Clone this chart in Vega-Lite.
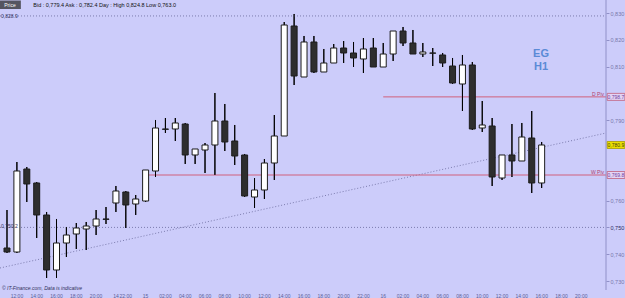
{
  "$schema": "https://vega.github.io/schema/vega-lite/v6.json",
  "width": 625,
  "height": 298,
  "autosize": {"type": "none"},
  "padding": 0,
  "background": "#ccccfa",
  "config": {"view": {"stroke": null}, "font": "Liberation Sans", "scale": {"continuousPadding": 0}},
  "datasets": {
    "candles": [
      {"t":0,"o":0.74231,"h":0.75649,"l":0.74045,"c":0.74082},
      {"t":1,"o":0.74082,"h":0.77440,"l":0.74045,"c":0.77105},
      {"t":2,"o":0.77179,"h":0.77254,"l":0.75948,"c":0.76620},
      {"t":3,"o":0.76657,"h":0.76694,"l":0.74605,"c":0.75463},
      {"t":4,"o":0.75463,"h":0.75575,"l":0.73112,"c":0.73411},
      {"t":5,"o":0.73411,"h":0.75314,"l":0.73112,"c":0.74418},
      {"t":6,"o":0.74418,"h":0.75015,"l":0.73896,"c":0.74716},
      {"t":7,"o":0.74754,"h":0.75164,"l":0.74194,"c":0.74978},
      {"t":8,"o":0.74940,"h":0.75202,"l":0.74157,"c":0.75052},
      {"t":9,"o":0.75052,"h":0.75649,"l":0.74716,"c":0.75314},
      {"t":10,"o":0.75314,"h":0.75761,"l":0.75127,"c":0.75300},
      {"t":11,"o":0.75911,"h":0.76545,"l":0.75575,"c":0.76358},
      {"t":12,"o":0.76321,"h":0.76358,"l":0.74978,"c":0.75836},
      {"t":13,"o":0.75873,"h":0.76209,"l":0.75463,"c":0.76060},
      {"t":14,"o":0.75985,"h":0.77142,"l":0.75948,"c":0.77142},
      {"t":15,"o":0.77105,"h":0.79008,"l":0.76881,"c":0.78709},
      {"t":16,"o":0.78672,"h":0.79082,"l":0.78522,"c":0.78660},
      {"t":17,"o":0.78672,"h":0.79082,"l":0.78224,"c":0.78896},
      {"t":18,"o":0.78858,"h":0.78896,"l":0.77366,"c":0.77702},
      {"t":19,"o":0.77702,"h":0.77926,"l":0.77366,"c":0.77926},
      {"t":20,"o":0.77888,"h":0.78149,"l":0.77030,"c":0.78075},
      {"t":21,"o":0.78075,"h":0.80015,"l":0.76955,"c":0.78970},
      {"t":22,"o":0.78970,"h":0.79605,"l":0.77851,"c":0.78187},
      {"t":23,"o":0.78224,"h":0.78821,"l":0.77328,"c":0.77664},
      {"t":24,"o":0.77702,"h":0.77739,"l":0.76134,"c":0.76172},
      {"t":25,"o":0.76134,"h":0.76843,"l":0.75724,"c":0.76396},
      {"t":26,"o":0.76396,"h":0.77552,"l":0.76060,"c":0.77403},
      {"t":27,"o":0.77403,"h":0.79194,"l":0.76769,"c":0.78411},
      {"t":28,"o":0.78411,"h":0.82664,"l":0.78411,"c":0.82552},
      {"t":29,"o":0.82515,"h":0.82963,"l":0.80313,"c":0.80649},
      {"t":30,"o":0.80612,"h":0.82142,"l":0.80612,"c":0.81918},
      {"t":31,"o":0.81918,"h":0.82142,"l":0.80761,"c":0.80799},
      {"t":32,"o":0.80799,"h":0.81657,"l":0.80799,"c":0.81134},
      {"t":33,"o":0.81134,"h":0.81843,"l":0.81134,"c":0.81694},
      {"t":34,"o":0.81694,"h":0.81955,"l":0.81134,"c":0.81508},
      {"t":35,"o":0.81508,"h":0.81918,"l":0.80985,"c":0.81321},
      {"t":36,"o":0.81284,"h":0.82067,"l":0.80761,"c":0.81657},
      {"t":37,"o":0.81694,"h":0.82067,"l":0.80985,"c":0.80985},
      {"t":38,"o":0.80985,"h":0.81881,"l":0.80985,"c":0.81470},
      {"t":39,"o":0.81470,"h":0.82328,"l":0.81209,"c":0.82328},
      {"t":40,"o":0.82328,"h":0.82478,"l":0.81769,"c":0.81881},
      {"t":41,"o":0.81881,"h":0.82366,"l":0.81470,"c":0.81470},
      {"t":42,"o":0.81470,"h":0.81881,"l":0.81358,"c":0.81545},
      {"t":43,"o":0.81508,"h":0.81694,"l":0.81022,"c":0.81500},
      {"t":44,"o":0.81433,"h":0.81508,"l":0.80985,"c":0.81134},
      {"t":45,"o":0.81022,"h":0.81321,"l":0.80351,"c":0.80388},
      {"t":46,"o":0.80351,"h":0.81433,"l":0.79343,"c":0.81060},
      {"t":47,"o":0.81060,"h":0.81172,"l":0.78634,"c":0.78672},
      {"t":48,"o":0.78709,"h":0.79717,"l":0.78560,"c":0.78821},
      {"t":49,"o":0.78784,"h":0.79082,"l":0.76545,"c":0.76881},
      {"t":50,"o":0.76843,"h":0.77702,"l":0.76769,"c":0.77702},
      {"t":51,"o":0.77702,"h":0.78858,"l":0.76881,"c":0.77478},
      {"t":52,"o":0.77478,"h":0.78896,"l":0.77478,"c":0.78373},
      {"t":53,"o":0.78336,"h":0.79343,"l":0.76284,"c":0.76657},
      {"t":54,"o":0.76657,"h":0.78187,"l":0.76470,"c":0.78075}
    ],
    "rightlabels": [
      {"kind":"D Piv","v":0.7987,"label":"0,798.7"},
      {"kind":"W Piv","v":0.76955,"label":"0,769.8"},
      {"kind":"price","v":0.78075,"label":"0,780.9"}
    ],
    "timelabels": [
      {"t":1,"label":"12:00","day":false},
      {"t":3,"label":"14:00","day":false},
      {"t":5,"label":"16:00","day":false},
      {"t":7,"label":"18:00","day":false},
      {"t":9,"label":"20:00","day":false},
      {"t":11,"label":"14","day":true},
      {"t":12,"label":"22:00","day":false},
      {"t":14,"label":"15","day":true},
      {"t":16,"label":"02:00","day":false},
      {"t":18,"label":"04:00","day":false},
      {"t":20,"label":"06:00","day":false},
      {"t":22,"label":"08:00","day":false},
      {"t":24,"label":"10:00","day":false},
      {"t":26,"label":"12:00","day":false},
      {"t":28,"label":"14:00","day":false},
      {"t":30,"label":"16:00","day":false},
      {"t":32,"label":"18:00","day":false},
      {"t":34,"label":"20:00","day":false},
      {"t":36,"label":"22:00","day":false},
      {"t":38,"label":"16","day":true},
      {"t":40,"label":"02:00","day":false},
      {"t":42,"label":"04:00","day":false},
      {"t":44,"label":"06:00","day":false},
      {"t":46,"label":"08:00","day":false},
      {"t":48,"label":"10:00","day":false},
      {"t":50,"label":"12:00","day":false},
      {"t":52,"label":"14:00","day":false},
      {"t":54,"label":"16:00","day":false},
      {"t":56,"label":"18:00","day":false},
      {"t":58,"label":"20:00","day":false}
    ]
  },
  "layer": [
    {
      "data": {"name":"candles"},
      "mark": {"type":"rule","color":"#000000","strokeWidth":1},
      "encoding": {
        "x": {"field":"t","type":"quantitative","scale":{"domain":[-0.707,62.419],"nice":false,"zero":false,"padding":0},
          "axis": {"title":null,"grid":false,"domain":false,"ticks":false,"labels":false}},
        "y": {"field":"l","type":"quantitative","scale":{"domain":[0.723658,0.834851],"nice":false,"zero":false,"padding":0},
          "axis": {"title":null,"orient":"right","offset":-19,"grid":false,"domain":false,"tickColor":"#9090c8","tickSize":3,"labelFontSize":5.5,"labelPadding":1,"labelFont":"Liberation Sans",
            "values":[0.73,0.74,0.75,0.76,0.79,0.81,0.82,0.83],
            "labelExpr":"replace(format(datum.value, '.3f'), '.', ',')",
            "labelColor":{"condition":{"test":"abs(datum.value - 0.75) < 0.0001","value":"#2c2c60"},"value":"#7878aa"}}},
        "y2": {"field":"h"}
      }
    },
    {
      "data": {"values": [{"v":0.8289},{"v":0.7500}]},
      "mark": {"type":"rule","color":"#7c7cae","strokeWidth":1,"strokeDash":[1,2]},
      "encoding": {
        "x": {"datum":-0.707,"type":"quantitative"},
        "x2": {"datum":60.5},
        "y": {"field":"v","type":"quantitative"}
      }
    },
    {
      "data": {"values": [{"t":-0.707,"v":0.73485},{"t":60.5,"v":0.78522}]},
      "mark": {"type":"line","color":"#7c7cae","strokeWidth":1,"strokeDash":[1,2]},
      "encoding": {
        "x": {"field":"t","type":"quantitative"},
        "y": {"field":"v","type":"quantitative"}
      }
    },
    {
      "data": {"values": [{"kind":"D Piv","t0":38,"v":0.7987},{"kind":"W Piv","t0":14,"v":0.76955}]},
      "mark": {"type":"rule","color":"#d0607c","strokeWidth":1},
      "encoding": {
        "x": {"field":"t0","type":"quantitative"},
        "x2": {"datum":60.5},
        "y": {"field":"v","type":"quantitative"}
      }
    },
    {
      "data": {"values": [{"t":60.5,"top":0.834851,"bottom":0.726643}]},
      "mark": {"type":"rule","color":"#9090c8","strokeWidth":1},
      "encoding": {
        "x": {"field":"t","type":"quantitative"},
        "y": {"field":"top","type":"quantitative"},
        "y2": {"field":"bottom"}
      }
    },
    {
      "data": {"name":"candles"},
      "mark": {"type":"rule","color":"#000000","strokeWidth":1},
      "encoding": {
        "x": {"field":"t","type":"quantitative"},
        "y": {"field":"l","type":"quantitative"},
        "y2": {"field":"h"}
      }
    },
    {
      "data": {"name":"candles"},
      "mark": {"type":"bar","width":6,"stroke":"#1c1c1c","strokeWidth":1},
      "encoding": {
        "x": {"field":"t","type":"quantitative"},
        "y": {"field":"o","type":"quantitative"},
        "y2": {"field":"c"},
        "fill": {"condition":{"test":"datum.c > datum.o","value":"#ffffff"},"value":"#2e2e2e"}
      }
    },
    {
      "data": {"name":"timelabels"},
      "mark": {"type":"text","fontSize":5,"align":"center","baseline":"middle","color":"#5c5c96","font":"Liberation Sans"},
      "encoding": {
        "x": {"field":"t","type":"quantitative"},
        "y": {"datum":0.72459,"type":"quantitative"},
        "text": {"field":"label"},
        "fontWeight": {"condition":{"test":"datum.day","value":"bold"},"value":"normal"}
      }
    },
    {
      "data": {"name":"rightlabels"},
      "mark": {"type":"bar","height":7,"strokeWidth":0.8},
      "encoding": {
        "x": {"datum":60.62,"type":"quantitative"},
        "x2": {"datum":62.4},
        "y": {"field":"v","type":"quantitative"},
        "fill": {"condition":{"test":"datum.kind == 'price'","value":"#ece000"},"value":"#e4d4f4"},
        "stroke": {"condition":{"test":"datum.kind == 'price'","value":"#a89c00"},"value":"#c0607c"}
      }
    },
    {
      "data": {"name":"rightlabels"},
      "mark": {"type":"text","fontSize":5,"align":"center","baseline":"middle","font":"Liberation Sans"},
      "encoding": {
        "x": {"datum":61.5,"type":"quantitative"},
        "y": {"field":"v","type":"quantitative"},
        "text": {"field":"label"},
        "color": {"condition":{"test":"datum.kind == 'price'","value":"#3c3c10"},"value":"#7040a0"}
      }
    },
    {
      "data": {"name":"rightlabels"},
      "transform": [{"filter":"datum.kind != 'price'"}],
      "mark": {"type":"text","fontSize":5,"align":"right","baseline":"bottom","dy":0,"color":"#b0406c","font":"Liberation Sans"},
      "encoding": {
        "x": {"datum":60.3,"type":"quantitative"},
        "y": {"field":"v","type":"quantitative"},
        "text": {"field":"kind"}
      }
    },
    {
      "data": {"values": [{"t":-0.6,"v":0.82883,"text":"0,828.9"},{"t":-0.6,"v":0.75045,"text":"0,750.2"}]},
      "mark": {"type":"text","fontSize":5,"align":"left","baseline":"middle","color":"#30305a","font":"Liberation Sans"},
      "encoding": {
        "x": {"field":"t","type":"quantitative"},
        "y": {"field":"v","type":"quantitative"},
        "text": {"field":"text"}
      }
    },
    {
      "data": {"values": [{"t":53.94,"v":0.8147,"text":"EG"},{"t":53.94,"v":0.80985,"text":"H1"}]},
      "mark": {"type":"text","fontSize":11,"fontWeight":"bold","align":"center","baseline":"middle","color":"#5b8ad6","font":"Liberation Sans"},
      "encoding": {
        "x": {"field":"t","type":"quantitative"},
        "y": {"field":"v","type":"quantitative"},
        "text": {"field":"text"}
      }
    },
    {
      "data": {"values": [{"t":-0.5,"v":0.7274,"text":"© IT-Finance.com, Data is indicative"}]},
      "mark": {"type":"text","fontSize":5,"fontStyle":"italic","align":"left","baseline":"middle","color":"#30305a","font":"Liberation Sans"},
      "encoding": {
        "x": {"field":"t","type":"quantitative"},
        "y": {"field":"v","type":"quantitative"},
        "text": {"field":"text"}
      }
    },
    {
      "data": {"values": [{"t0":-0.707,"t1":1.4,"v0":0.83466,"v1":0.83149}]},
      "mark": {"type":"bar","color":"#555560"},
      "encoding": {
        "x": {"field":"t0","type":"quantitative"},
        "x2": {"field":"t1"},
        "y": {"field":"v0","type":"quantitative"},
        "y2": {"field":"v1"}
      }
    },
    {
      "data": {"values": [{"t":0.3,"v":0.83307,"text":"Price"}]},
      "mark": {"type":"text","fontSize":5,"align":"center","baseline":"middle","color":"#ffffff","font":"Liberation Sans"},
      "encoding": {
        "x": {"field":"t","type":"quantitative"},
        "y": {"field":"v","type":"quantitative"},
        "text": {"field":"text"}
      }
    },
    {
      "data": {"values": [{"t":2.65,"v":0.83317,"text":"Bid : 0,779.4  Ask : 0,782.4   Day : High 0,824.8  Low 0,763.0"}]},
      "mark": {"type":"text","fontSize":5.5,"align":"left","baseline":"middle","color":"#101010","font":"Liberation Sans"},
      "encoding": {
        "x": {"field":"t","type":"quantitative"},
        "y": {"field":"v","type":"quantitative"},
        "text": {"field":"text"}
      }
    }
  ]
}
